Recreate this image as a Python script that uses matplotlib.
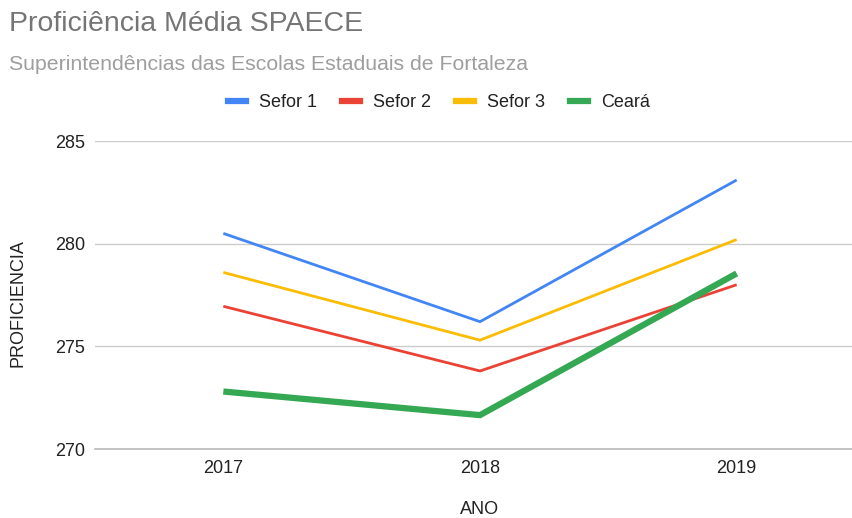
import matplotlib
matplotlib.use("Agg")
import matplotlib.pyplot as plt
from matplotlib.lines import Line2D

plt.rcParams['font.family'] = ['Liberation Sans', 'DejaVu Sans']

years = ["2017", "2018", "2019"]
sefor1 = [280.5, 276.2, 283.1]
sefor2 = [276.95, 273.8, 278.0]
sefor3 = [278.6, 275.3, 280.2]
ceara = [272.8, 271.65, 278.55]
series_names = ["Sefor 1", "Sefor 2", "Sefor 3", "Ceará"]
yticks = [270, 275, 280, 285]

colors = ["#4285F4", "#EA4335", "#FBBC04", "#34A853"]
widths = [2.0, 2.0, 2.0, 4.5]

W, H = 852, 518
fig = plt.figure(figsize=(W / 100, H / 100), dpi=100)
left, right, top, bottom = 95, 865, 141, 449
ax = fig.add_axes([left / W, 1 - bottom / H, (right - left) / W, (bottom - top) / H])

x = list(range(len(years)))
for vals, c, lw in zip([sefor1, sefor2, sefor3, ceara], colors, widths):
    ax.plot(x, vals, color=c, lw=lw, solid_capstyle='butt', solid_joinstyle='miter', zorder=3)

ax.set_xlim(-0.5, len(years) - 0.5)
ax.set_ylim(270, 285)
ax.set_yticks(yticks)
ax.set_yticklabels([str(t) for t in yticks])
ax.set_xticks(x)
ax.set_xticklabels(years)
ax.grid(axis='y', color='#cccccc', lw=1, zorder=0)
for s in ['top', 'right', 'left']:
    ax.spines[s].set_visible(False)
ax.spines['bottom'].set_color('#bbbbbb')
ax.spines['bottom'].set_linewidth(1.2)
ax.tick_params(axis='both', length=0, labelsize=13, labelcolor='#222222')
ax.tick_params(axis='y', pad=7)
ax.tick_params(axis='x', pad=8)

fig.text(480 / W, 1 - 510 / H, "ANO", fontsize=13, color='#222222', ha='center', va='center')
fig.text(18 / W, 1 - 303 / H, "PROFICIENCIA", fontsize=13, color='#222222', ha='center', va='center',
         rotation=90)

fig.text(9 / W, 1 - 24 / H, "Proficiência Média SPAECE", fontsize=20.5, color='#757575', va='center', ha='left')
fig.text(9 / W, 1 - 65 / H, "Superintendências das Escolas Estaduais de Fortaleza", fontsize=15.3,
         color='#9e9e9e', va='center', ha='left')

handles = [Line2D([0], [0], color=c, lw=4.5) for c in colors]
leg = fig.legend(handles, series_names, loc='center', bbox_to_anchor=(439 / W, 1 - 103 / H),
                 ncol=4, frameon=False, fontsize=13, handlelength=1.0, handletextpad=0.75,
                 columnspacing=1.35, borderpad=0, borderaxespad=0)
for t in leg.get_texts():
    t.set_color('#222222')

fig.savefig("out.png", dpi=100)
